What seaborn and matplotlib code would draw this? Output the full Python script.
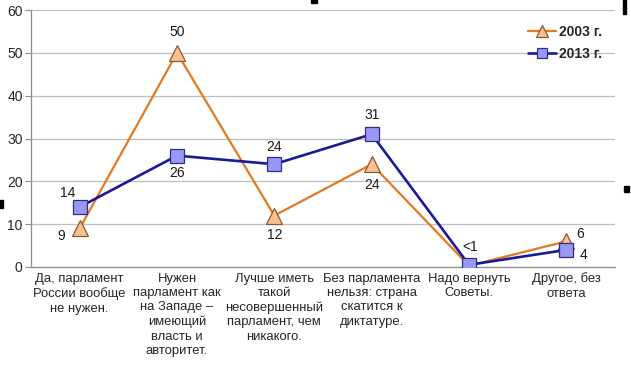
import pandas as pd
import seaborn as sns
import matplotlib.pyplot as plt
from matplotlib.patches import Rectangle

# данные опроса
categories = [
    "Да, парламент\nРоссии вообще\nне нужен.",
    "Нужен\nпарламент как\nна Западе –\nимеющий\nвласть и\nавторитет.",
    "Лучше иметь\nтакой\nнесовершенный\nпарламент, чем\nникакого.",
    "Без парламента\nнельзя: страна\nскатится к\nдиктатуре.",
    "Надо вернуть\nСоветы.",
    "Другое, без\nответа",
]
values_2003 = [9, 50, 12, 24, 0.3, 6]
values_2013 = [14, 26, 24, 31, 0.5, 4]
labels_2003 = ["9", "50", "12", "24", "", "6"]
labels_2013 = ["14", "26", "24", "31", "<1", "4"]

df03 = pd.DataFrame({"pos": range(len(categories)), "val": values_2003})
df13 = pd.DataFrame({"pos": range(len(categories)), "val": values_2013})

sns.set_style("white")
plt.rcParams["font.family"] = ["Liberation Sans", "DejaVu Sans"]

fig = plt.figure(figsize=(6.31, 3.85), dpi=100)
ax = fig.add_axes([31 / 631, 1 - 267 / 385, (615 - 31) / 631, (267 - 10) / 385])

sns.lineplot(data=df03, x="pos", y="val", ax=ax, color="#E5781E", linewidth=1.6,
             marker="^", markersize=12, markerfacecolor="#FAC08F",
             markeredgecolor="#8A5A2E", markeredgewidth=0.9, label="2003 г.", zorder=3)
sns.lineplot(data=df13, x="pos", y="val", ax=ax, color="#1A1A96", linewidth=1.9,
             marker="s", markersize=9.5, markerfacecolor="#9999F5",
             markeredgecolor="#2E2E8A", markeredgewidth=0.9, label="2013 г.", zorder=4)

# подписи значений
off03 = [(-18, -8), (0, 21), (0, -19), (0, -21), (0, 0), (14, 7)]
off13 = [(-12, 14), (0, -17), (0, 17), (0, 19), (1, 18), (17, -5)]
for i, (lab, (dx, dy)) in enumerate(zip(labels_2003, off03)):
    if lab:
        ax.annotate(lab, (i, values_2003[i]), xytext=(dx, dy), textcoords="offset pixels",
                    ha="center", va="center", fontsize=10, color="#1a1a1a")
for i, (lab, (dx, dy)) in enumerate(zip(labels_2013, off13)):
    ax.annotate(lab, (i, values_2013[i]), xytext=(dx, dy), textcoords="offset pixels",
                ha="center", va="center", fontsize=10, color="#1a1a1a")

ax.set_xlim(-0.5, len(categories) - 0.5)
ax.set_ylim(0, 60)
ax.set_yticks(range(0, 61, 10))
ax.set_xticks(range(len(categories)))
ax.set_xticklabels(categories, fontsize=9.4, linespacing=1.27)
ax.set_xticks([i - 0.5 for i in range(len(categories) + 1)], minor=True)
ax.tick_params(axis="x", which="major", length=0, pad=4)
ax.tick_params(axis="x", which="minor", length=5, color="#8c8c8c", width=0.8, direction="out")
ax.tick_params(axis="y", length=4, color="#8c8c8c", width=0.8, labelsize=10, pad=2, left=True)
ax.yaxis.grid(True, color="#bfbfbf", linewidth=0.9)
ax.set_axisbelow(True)
ax.set_xlabel("")
ax.set_ylabel("")
for side in ["top", "right"]:
    ax.spines[side].set_visible(False)
for side in ["left", "bottom"]:
    ax.spines[side].set_color("#8c8c8c")
    ax.spines[side].set_linewidth(0.9)

leg = ax.legend(loc="upper right", bbox_to_anchor=(1.0, 0.99), frameon=False,
                handlelength=2.0, handletextpad=0.25, labelspacing=0.55, markerscale=0.7,
                prop={"weight": "bold", "size": 10})

# служебные метки по краям исходной картинки
for (x, y, w, h) in [(623, 0, 3, 14), (624, 186, 5, 6), (0, 200, 3, 8), (311, 0, 6, 3)]:
    fig.patches.append(Rectangle((x / 631, 1 - (y + h) / 385), w / 631, h / 385,
                                 transform=fig.transFigure, color="black"))

fig.savefig("out.png", dpi=100, facecolor="white")
